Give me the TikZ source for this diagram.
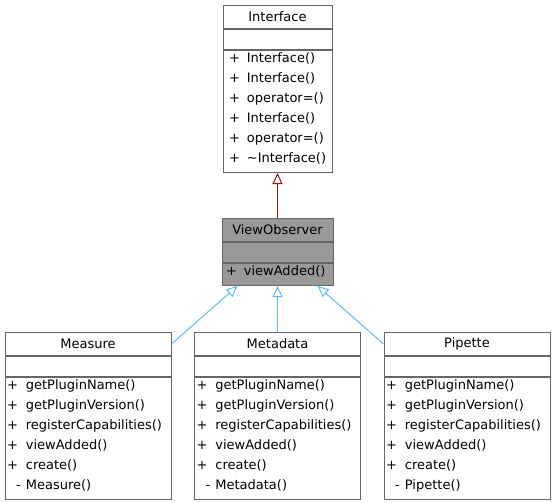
\documentclass[tikz,border=0pt]{standalone}
\usepackage{fontspec}
\setmainfont{DejaVu Sans}
\usetikzlibrary{positioning,arrows.meta}

\definecolor{boxgray}{HTML}{666666}
\definecolor{hilite}{HTML}{999999}
\definecolor{pubedge}{HTML}{63B8FF}
\definecolor{privedge}{HTML}{8B1A1A}

\newcommand{\privmark}{\phantom{+}\llap{-\kern-3pt}}

\begin{document}
\begin{tikzpicture}[
    x=1pt, y=1pt,
    font=\fontsize{13}{20}\selectfont,
    title/.style={
        draw=boxgray,
        fill=white,
        line width=1pt,
        anchor=north,
        minimum height=23pt,
        inner sep=0pt
    },
    blank/.style={
        draw=boxgray,
        fill=white,
        line width=1pt,
        minimum height=20pt,
        inner sep=0pt
    },
    members/.style={
        draw=boxgray,
        fill=white,
        line width=1pt,
        align=left,
        inner ysep=0pt,
        text height=12pt
    },
    pubarrow/.style={
        draw=pubedge,
        line width=1pt,
        -{Triangle[open, length=11pt, width=10pt]}
    },
    privarrow/.style={
        draw=privedge,
        line width=1pt,
        -{Triangle[open, length=11pt, width=10pt]}
    }
    ]

    \useasboundingbox (0,0) rectangle (555,-503);

    % base class
    \node[title, minimum width=109pt] (iface) at (277.5,-5) {Interface};
    \node[blank, minimum width=109pt, below=0pt of iface] (iface_attr) {};
    \node[members, text width=97pt, inner xsep=6pt, text depth=110pt, below=0pt of iface_attr] (iface_ops) {%
        \begin{tabular}[t]{@{}l@{\hspace{7pt}}l@{}}
        + & Interface()\\
        + & Interface()\\
        + & operator=()\\
        + & Interface()\\
        + & operator=()\\
        + & \textasciitilde Interface()
        \end{tabular}};

    % observer
    \node[title, fill=hilite, minimum width=111pt] (vobs) at (277.5,-218) {ViewObserver};
    \node[blank, fill=hilite, minimum width=111pt, below=0pt of vobs] (vobs_attr) {};
    \node[members, fill=hilite, text width=103pt, inner xsep=4pt, text depth=10pt, below=0pt of vobs_attr] (vobs_ops) {%
        \begin{tabular}[t]{@{}l@{\hspace{7pt}}l@{}}
        + & viewAdded()
        \end{tabular}};

    % plugins
    \node[title, minimum width=166pt] (measure) at (88,-332) {Measure};
    \node[blank, minimum width=166pt, below=0pt of measure] (measure_attr) {};
    \node[members, text width=162pt, inner xsep=2pt, text depth=110pt, below=0pt of measure_attr] (measure_ops) {%
        \begin{tabular}[t]{@{}l@{\hspace{8pt}}l@{}}
        + & getPluginName()\\
        + & getPluginVersion()\\
        + & registerCapabilities()\\
        + & viewAdded()\\
        + & create()\\
        \privmark & Measure()
        \end{tabular}};

    \node[title, minimum width=166pt] (metadata) at (277.5,-332) {Metadata};
    \node[blank, minimum width=166pt, below=0pt of metadata] (metadata_attr) {};
    \node[members, text width=162pt, inner xsep=2pt, text depth=110pt, below=0pt of metadata_attr] (metadata_ops) {%
        \begin{tabular}[t]{@{}l@{\hspace{8pt}}l@{}}
        + & getPluginName()\\
        + & getPluginVersion()\\
        + & registerCapabilities()\\
        + & viewAdded()\\
        + & create()\\
        \privmark & Metadata()
        \end{tabular}};

    \node[title, minimum width=166pt] (pipette) at (467,-332) {Pipette};
    \node[blank, minimum width=166pt, below=0pt of pipette] (pipette_attr) {};
    \node[members, text width=162pt, inner xsep=2pt, text depth=110pt, below=0pt of pipette_attr] (pipette_ops) {%
        \begin{tabular}[t]{@{}l@{\hspace{8pt}}l@{}}
        + & getPluginName()\\
        + & getPluginVersion()\\
        + & registerCapabilities()\\
        + & viewAdded()\\
        + & create()\\
        \privmark & Pipette()
        \end{tabular}};

    % inheritance
    \draw[privarrow] (vobs.north) -- (iface_ops.south);
    \draw[pubarrow] (measure.east) -- (vobs_ops.196);
    \draw[pubarrow] (metadata.north) -- (vobs_ops.south);
    \draw[pubarrow] (pipette.west) -- (vobs_ops.-16);
\end{tikzpicture}
\end{document}
